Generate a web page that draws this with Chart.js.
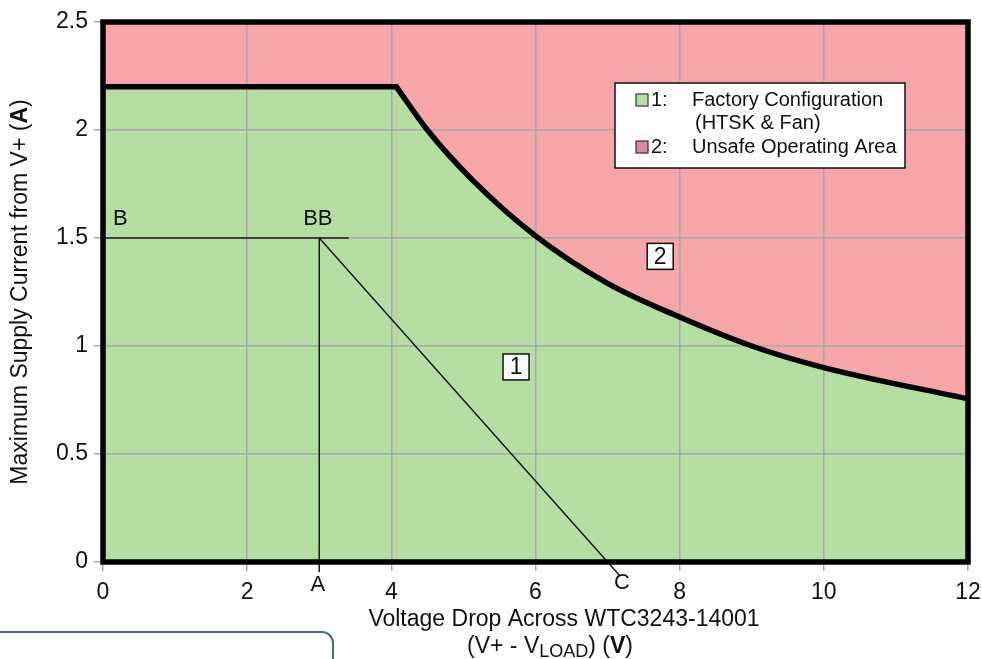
<!DOCTYPE html>
<html>
<head>
<meta charset="utf-8">
<script src="https://cdn.jsdelivr.net/npm/chart.js@4/dist/chart.umd.min.js"></script>
<style>
  html, body { margin: 0; padding: 0; background: #fff; }
  #wrap { position: relative; width: 982px; height: 659px; overflow: hidden; }
  #frameBox {
    position: absolute; left: -20px; top: 631px; width: 354px; height: 80px;
    border: 2px solid #41689c; border-radius: 12px; box-sizing: border-box;
  }
</style>
</head>
<body>
<div id="wrap">
  <canvas id="power-chart" width="982" height="659"></canvas>
  <div id="frameBox"></div>
</div>
<script>
// ------------------------------------------------------
// data
// ------------------------------------------------------
const flatVolts  = [0, 4.07];
const flatAmps   = [2.2, 2.2];
const curveVolts = [4.07, 4.5, 5.13, 6, 7, 8, 9, 10, 12];
const curveAmps  = [2.2, 2.0, 1.767, 1.51, 1.29, 1.134, 1.0, 0.9, 0.755];

const unsafeVolts = [0, 12];
const unsafeAmps  = [2.5, 2.5];

const lineBVolts  = [0, 3.41];
const lineBAmps   = [1.5, 1.5];
const lineAVolts  = [3, 3];
const lineAAmps   = [-0.046, 1.5];
const lineCVolts  = [3, 7, 7.17];
const lineCAmps   = [1.5, 0, -0.064];

const xTicks = [0, 2, 4, 6, 8, 10, 12];
const yTicks = [0, 0.5, 1, 1.5, 2, 2.5];

const marks = [
    { text: 'B',  x: 0.24, y: 1.59 },
    { text: 'BB', x: 2.98, y: 1.59 },
    { text: 'A',  x: 2.98, y: -0.106 },
    { text: 'C',  x: 7.2,  y: -0.097 }
];
const regionTags = [
    { text: '1', x: 5.73, y: 0.903 },
    { text: '2', x: 7.73, y: 1.415 }
];

const GREEN = '#b5dea3';
const PINK  = '#f6a5a8';
const FONT  = '"Liberation Sans", Arial, sans-serif';

function pts(xs, ys) {
    return xs.map((x, i) => ({ x: x, y: ys[i] }));
}

// draws a run of text pieces (plain / bold / subscript) centred on cx
function drawRuns(ctx, runs, cx, cy) {
    let total = 0;
    runs.forEach(r => { ctx.font = r.font; r.w = ctx.measureText(r.text).width; total += r.w; });
    let x = cx - total / 2;
    ctx.textAlign = 'left';
    ctx.textBaseline = 'middle';
    runs.forEach(r => {
        ctx.font = r.font;
        ctx.fillText(r.text, x, cy + (r.dy || 0));
        x += r.w;
    });
}

const decor = {
    id: 'decor',
    afterDatasetsDraw(chart) {
        const ctx = chart.ctx;
        const a = chart.chartArea;
        const xs = chart.scales.x, ys = chart.scales.y;

        ctx.save();
        // heavy plot frame
        ctx.strokeStyle = '#000';
        ctx.lineWidth = 5.5;
        ctx.strokeRect(a.left, a.top, a.right - a.left, a.bottom - a.top);

        // point letters
        ctx.fillStyle = '#111';
        ctx.font = '22px ' + FONT;
        ctx.textAlign = 'center';
        ctx.textBaseline = 'middle';
        marks.forEach(m => {
            ctx.fillText(m.text, xs.getPixelForValue(m.x), ys.getPixelForValue(m.y));
        });

        // boxed region numbers
        regionTags.forEach(t => {
            const px = xs.getPixelForValue(t.x), py = ys.getPixelForValue(t.y);
            ctx.fillStyle = '#f8f9fb';
            ctx.fillRect(px - 13, py - 13, 26, 26);
            ctx.strokeStyle = '#111';
            ctx.lineWidth = 1.5;
            ctx.strokeRect(px - 13, py - 13, 26, 26);
            ctx.fillStyle = '#111';
            ctx.font = '23px ' + FONT;
            ctx.textAlign = 'center';
            ctx.fillText(t.text, px, py + 1);
        });

        // legend
        ctx.fillStyle = '#fff';
        ctx.fillRect(615, 83, 290, 85);
        ctx.strokeStyle = '#111';
        ctx.lineWidth = 1.5;
        ctx.strokeRect(615, 83, 290, 85);
        const rows = [
            { sw: GREEN, n: '1:', t: 'Factory Configuration', y: 100 },
            { sw: '#d98a9e', n: '2:', t: 'Unsafe Operating Area', y: 147 }
        ];
        ctx.font = '20px ' + FONT;
        ctx.textAlign = 'left';
        ctx.textBaseline = 'middle';
        rows.forEach(r => {
            ctx.fillStyle = r.sw;
            ctx.fillRect(636, r.y - 6, 12, 12);
            ctx.strokeStyle = '#333';
            ctx.lineWidth = 1.2;
            ctx.strokeRect(636, r.y - 6, 12, 12);
            ctx.fillStyle = '#111';
            ctx.fillText(r.n, 651, r.y);
            ctx.fillText(r.t, 692, r.y);
        });
        ctx.fillText('(HTSK & Fan)', 695, 123);

        // axis titles
        ctx.fillStyle = '#111';
        const f = '23px ' + FONT, fb = 'bold 23px ' + FONT, fs = '18px ' + FONT;
        drawRuns(ctx, [{ text: 'Voltage Drop Across WTC3243-14001', font: f }], 564, 620);
        drawRuns(ctx, [
            { text: '(V+ - V', font: f },
            { text: 'LOAD', font: fs, dy: 5 },
            { text: ') (', font: f },
            { text: 'V', font: fb },
            { text: ')', font: f }
        ], 550, 647);

        ctx.translate(21, (a.top + a.bottom) / 2);
        ctx.rotate(-Math.PI / 2);
        drawRuns(ctx, [
            { text: 'Maximum Supply Current from V+ (', font: f },
            { text: 'A', font: fb },
            { text: ')', font: f }
        ], 0, 0);
        ctx.restore();
    }
};

let chartBox = document.getElementById('power-chart');

if (chartBox) {
    let ctx = chartBox.getContext('2d');
    const guide = { borderColor: '#1a1a1a', borderWidth: 1.5, pointRadius: 0, showLine: true, fill: false, clip: false };
    const limit = {
        showLine: true,
        borderColor: '#000',
        borderWidth: 5.5,
        borderCapStyle: 'round',
        borderJoinStyle: 'round',
        backgroundColor: GREEN,
        fill: 'origin',
        pointRadius: 0
    };
    const tickFont = { family: FONT, size: 23 };

    new Chart(ctx, {
        type: 'scatter',
        data: {
            datasets: [
            Object.assign({ label: 'Factory Configuration (HTSK & Fan)', data: pts(curveVolts, curveAmps), cubicInterpolationMode: 'monotone' }, limit),
            Object.assign({ label: 'Current limit', data: pts(flatVolts, flatAmps) }, limit),
            Object.assign({ label: 'B', data: pts(lineBVolts, lineBAmps) }, guide),
            Object.assign({ label: 'A', data: pts(lineAVolts, lineAAmps) }, guide),
            Object.assign({ label: 'C', data: pts(lineCVolts, lineCAmps) }, guide),
            {
                label: 'Unsafe Operating Area',
                data: pts(unsafeVolts, unsafeAmps),
                showLine: true,
                borderWidth: 0,
                backgroundColor: PINK,
                fill: 'origin',
                pointRadius: 0
            }]
        },
        options: {
            responsive: false,
            animation: false,
            layout: { padding: { left: 0, top: 22, right: 14, bottom: 0 } },
            plugins: {
                legend: { display: false },
                tooltip: { enabled: false },
                filler: { drawTime: 'beforeDraw' }
            },
            scales: {
                x: {
                    type: 'linear',
                    min: 0,
                    max: 12,
                    afterBuildTicks: s => { s.ticks = xTicks.map(v => ({ value: v })); },
                    afterFit: s => { s.height = 97; s.paddingRight = 0; },
                    ticks: { color: '#111', font: tickFont, padding: 8, callback: v => String(v) },
                    grid: { color: '#a8a8a8', lineWidth: 1.5, tickLength: 9 },
                    border: { display: false }
                },
                y: {
                    type: 'linear',
                    min: 0,
                    max: 2.5,
                    afterBuildTicks: s => { s.ticks = yTicks.map(v => ({ value: v })); },
                    afterFit: s => { s.width = 103; },
                    ticks: { color: '#111', font: tickFont, padding: 6, callback: v => String(v) },
                    grid: { color: '#a8a8a8', lineWidth: 1.5, tickLength: 9 },
                    border: { display: false }
                }
            }
        },
        plugins: [decor]
    });
}
</script>
</body>
</html>
